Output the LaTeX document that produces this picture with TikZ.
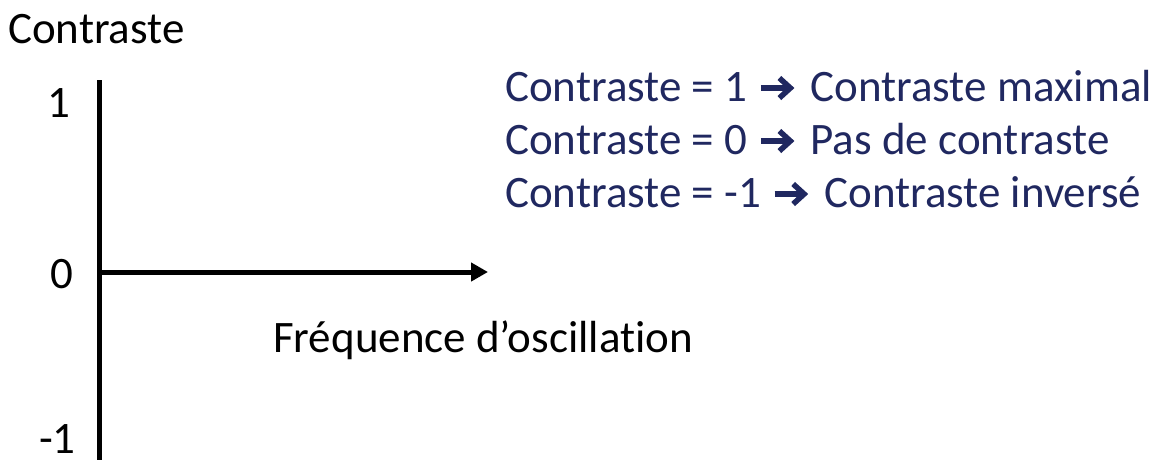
\documentclass[tikz,border=0pt]{standalone}
\usepackage{fontspec}
\setmainfont{Carlito}[Ligatures=NoCommon]
\usetikzlibrary{arrows.meta}
\definecolor{navy}{RGB}{32,40,96}
\newcommand{\bluearrow}{\hspace{3pt}\tikz[baseline=0pt,x=1pt,y=1pt]{\useasboundingbox (0,0) rectangle (34,20);\draw[navy,line width=5.5pt] (0.5,13)--(29,13);\draw[navy,line width=5.5pt,line join=miter] (19,23)--(30,13)--(19,3);}\hspace{6pt}}
\tikzset{
  lbl/.style={inner sep=0pt,anchor=base west,font=\fontsize{45}{54}\selectfont},
  bluelbl/.style={lbl,text=navy},
  axis/.style={line width=5pt,black}
}
\begin{document}
\begin{tikzpicture}[x=1pt,y=-1pt]
\useasboundingbox (0,0) rectangle (1157,459);
\coordinate (ytop) at (99,80);
\coordinate (ybot) at (99,462);
\coordinate (orig) at (99,272);
\coordinate (xend) at (488,272);
\draw[axis] (ytop) -- (ybot);
\draw[axis,-{Triangle[length=17pt,width=18pt]}] (orig) -- (xend);
\node[lbl] (ylab) at (8,43) {Contraste};
\node[lbl] (t1) at (47,117) {1};
\node[lbl] (t0) at (50,288) {0};
\node[lbl] (tm1) at (39,453) {-1};
\node[lbl] (xlab) at (273,352) {Fréquence d’oscillation};
\node[bluelbl] (l1) at (505,101) {Contraste = 1 \bluearrow{} Contraste maximal};
\node[bluelbl] (l2) at (505,154) {Contraste = 0 \bluearrow{} Pas de contraste};
\node[bluelbl] (l3) at (505,207) {Contraste = -1 \bluearrow{} Contraste inversé};
\end{tikzpicture}
\end{document}
